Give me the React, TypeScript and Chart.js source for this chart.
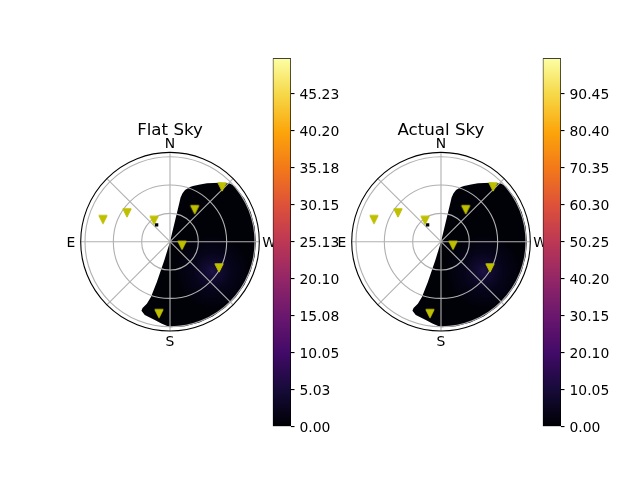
import React, { useEffect, useRef } from 'react';
import { Chart, registerables } from 'chart.js';

Chart.register(...registerables);

// ---------- data ----------
const DIRECTION_LABELS = ['N', 'E', 'S', 'W'];
const DIRECTION_AZ = [0, 90, 180, 270];
const SPOKE_AZ = [0, 45, 90, 135, 180, 225, 270, 315];
const RING_ZEN = [30, 60, 90];
const R_MAX = 94.55;
const LABEL_R = 105;

// satellites (azimuth deg, zenith deg)
const SAT_AZ = [316.4, 322.3, 36.9, 56.3, 71.8, 252.9, 241.8, 171.3];
const SAT_ZEN = [80.0, 42.8, 28.2, 54.8, 74.7, 13.3, 58.9, 77.1];

// small isolated heat cell
const PATCH_AZ = [38.5];
const PATCH_ZEN = [22.8];

// outline of the heat-map region
const REGION_AZ = [0, 346.5, 346.5, 345.5, 343.8, 339.9, 337.6, 332.3, 327.6, 319.7, 314.1, 310.5,
  300, 290, 280, 270, 260, 250, 240, 230, 220, 210, 200, 190,
  180, 174, 169, 161, 157.5, 157.5, 159.5, 161, 162, 163];
const REGION_ZEN = [0, 42, 48, 53, 57, 61.7, 63.8, 68.4, 73.2, 81.9, 88.5, 90.5,
  91, 91, 91, 91, 91, 91, 91, 91, 91, 91, 91, 91,
  90.5, 87, 84.5, 82, 79, 76, 70, 62, 45, 20];

// faint maximum of the heat map
const GLOW_AZ = 235;
const GLOW_ZEN = 55;
const GLOW_R = 40;

const FLAT_MAX = 50;
const FLAT_TICKS = [0, 5.025, 10.05, 15.075, 20.1, 25.125, 30.15, 35.175, 40.2, 45.225];
const FLAT_TICK_LABELS = ['0.00', '5.03', '10.05', '15.08', '20.10', '25.13', '30.15', '35.18', '40.20', '45.23'];

const ACTUAL_MAX = 100;
const ACTUAL_TICKS = [0, 10.05, 20.1, 30.15, 40.2, 50.25, 60.3, 70.35, 80.4, 90.45];
const ACTUAL_TICK_LABELS = ['0.00', '10.05', '20.10', '30.15', '40.20', '50.25', '60.30', '70.35', '80.40', '90.45'];

const INFERNO = ['#000004', '#160b39', '#420a68', '#6a176e', '#932667', '#bc3754',
  '#dd513a', '#f37819', '#fca50a', '#f6d746', '#fcffa4'];

const FONT = 'DejaVu Sans';

// ---------- helpers ----------
const rad = (d: number) => (d * Math.PI) / 180;
const toXY = (az: number, zen: number) => ({ x: -zen * Math.sin(rad(az)), y: zen * Math.cos(rad(az)) });
const toPoints = (az: number[], zen: number[]) => az.map((a, i) => toXY(a, zen[i]));

function makeTriangle() {
  const c = document.createElement('canvas');
  c.width = 12;
  c.height = 12;
  const g = c.getContext('2d')!;
  g.beginPath();
  g.moveTo(1.83, 1.83);
  g.lineTo(10.17, 1.83);
  g.lineTo(6, 10.17);
  g.closePath();
  g.fillStyle = '#bfbf00';
  g.fill();
  g.lineWidth = 1;
  g.strokeStyle = '#bfbf00';
  g.stroke();
  return c;
}

const polarPlugin = {
  id: 'polarDecor',
  afterDatasetDraw(chart: any, args: any) {
    if (args.index !== 2) return;
    const ctx = chart.ctx;
    const xs = chart.scales.x;
    const ys = chart.scales.y;
    const cx = xs.getPixelForValue(0);
    const cy = ys.getPixelForValue(0);
    ctx.save();
    ctx.strokeStyle = '#b0b0b0';
    ctx.lineWidth = 1.1;
    RING_ZEN.forEach((z) => {
      const r = xs.getPixelForValue(z) - cx;
      ctx.beginPath();
      ctx.arc(cx, cy, r, 0, Math.PI * 2);
      ctx.stroke();
    });
    SPOKE_AZ.forEach((a) => {
      const p = toXY(a, R_MAX);
      ctx.beginPath();
      ctx.moveTo(cx, cy);
      ctx.lineTo(xs.getPixelForValue(p.x), ys.getPixelForValue(p.y));
      ctx.stroke();
    });
    ctx.restore();
  },
  afterDatasetsDraw(chart: any) {
    const ctx = chart.ctx;
    const xs = chart.scales.x;
    const ys = chart.scales.y;
    const cx = xs.getPixelForValue(0);
    const cy = ys.getPixelForValue(0);
    ctx.save();
    ctx.strokeStyle = '#000';
    ctx.lineWidth = 1.1;
    ctx.beginPath();
    ctx.arc(cx, cy, xs.getPixelForValue(R_MAX) - cx, 0, Math.PI * 2);
    ctx.stroke();
    ctx.fillStyle = '#000';
    ctx.font = `13.9px "${FONT}"`;
    ctx.textAlign = 'center';
    ctx.textBaseline = 'middle';
    DIRECTION_LABELS.forEach((lab, i) => {
      const p = toXY(DIRECTION_AZ[i], LABEL_R);
      ctx.fillText(lab, xs.getPixelForValue(p.x), ys.getPixelForValue(p.y) + 1.5);
    });
    ctx.restore();
  },
};

function polarConfig(title: string, tri: HTMLCanvasElement): any {
  return {
    type: 'scatter',
    data: {
      datasets: [
        {
          type: 'scatter',
          data: toPoints(SAT_AZ, SAT_ZEN),
          pointStyle: tri,
          pointRadius: 5,
          order: 0,
        },
        {
          type: 'scatter',
          data: toPoints(PATCH_AZ, PATCH_ZEN),
          pointStyle: 'rect',
          pointRadius: 2.4,
          backgroundColor: '#000004',
          borderWidth: 0,
          order: 1,
        },
        {
          type: 'line',
          data: toPoints(REGION_AZ, REGION_ZEN),
          fill: 'shape',
          borderWidth: 0,
          borderColor: 'rgba(0,0,0,0)',
          pointRadius: 0,
          tension: 0,
          order: 2,
          backgroundColor: (c: any) => {
            const chart = c.chart;
            const xs = chart.scales && chart.scales.x;
            const ys = chart.scales && chart.scales.y;
            if (!chart.chartArea || !xs || !ys) return '#000004';
            const g = toXY(GLOW_AZ, GLOW_ZEN);
            const px = xs.getPixelForValue(g.x);
            const py = ys.getPixelForValue(g.y);
            const rr = Math.abs(xs.getPixelForValue(GLOW_R) - xs.getPixelForValue(0));
            const grad = chart.ctx.createRadialGradient(px, py, 0, px, py, rr);
            grad.addColorStop(0, '#1c1146');
            grad.addColorStop(0.2, '#110a30');
            grad.addColorStop(0.5, '#06041a');
            grad.addColorStop(1, '#010108');
            return grad;
          },
        },
      ],
    },
    options: {
      responsive: false,
      animation: false,
      events: [],
      layout: { padding: { left: 40.7, right: 40.7, top: 21, bottom: 29 } },
      plugins: {
        legend: { display: false },
        tooltip: { enabled: false },
        title: {
          display: true,
          text: title,
          color: '#000',
          font: { family: FONT, size: 16.67, weight: 'normal', lineHeight: 1.2 },
          padding: { top: 0, bottom: 11.4 },
        },
      },
      scales: {
        x: { type: 'linear', display: false, min: -R_MAX, max: R_MAX },
        y: { type: 'linear', display: false, min: -R_MAX, max: R_MAX },
      },
    },
    plugins: [polarPlugin],
  };
}

function colorbarConfig(max: number, ticks: number[], labels: string[]): any {
  return {
    type: 'bar',
    data: {
      labels: [''],
      datasets: [
        {
          data: [max],
          borderColor: '#000',
          borderWidth: 1,
          borderSkipped: false,
          barPercentage: 1,
          categoryPercentage: 1,
          backgroundColor: (c: any) => {
            const chart = c.chart;
            const a = chart.chartArea;
            if (!a) return '#000';
            const grad = chart.ctx.createLinearGradient(0, a.bottom, 0, a.top);
            INFERNO.forEach((col, i) => grad.addColorStop(i / (INFERNO.length - 1), col));
            return grad;
          },
        },
      ],
    },
    options: {
      responsive: false,
      animation: false,
      events: [],
      layout: { padding: { left: 10.7, right: 1, top: 18.3, bottom: 13.3 } },
      plugins: { legend: { display: false }, tooltip: { enabled: false } },
      scales: {
        x: { display: false },
        y: {
          position: 'right',
          min: 0,
          max,
          grid: { drawOnChartArea: false, drawTicks: true, tickLength: 3.5, color: '#000', lineWidth: 1.1 },
          border: { display: false },
          ticks: {
            autoSkip: false,
            padding: 5,
            labelOffset: 1.8,
            color: '#000',
            font: { family: FONT, size: 13.9 },
            callback: (_v: any, i: number) => labels[i],
          },
          afterBuildTicks: (s: any) => {
            s.ticks = ticks.map((v) => ({ value: v }));
          },
          afterFit: (s: any) => {
            s.width = 50;
          },
        },
      },
    },
  };
}

function ChartCanvas(props: { make: () => any; left: number; top: number; width: number; height: number }) {
  const ref = useRef<HTMLCanvasElement | null>(null);
  useEffect(() => {
    const chart = new Chart(ref.current as HTMLCanvasElement, props.make());
    return () => chart.destroy();
  }, []);
  return (
    <canvas
      ref={ref}
      width={props.width}
      height={props.height}
      style={{ position: 'absolute', left: props.left, top: props.top, width: props.width, height: props.height }}
    />
  );
}

export default function App() {
  return (
    <div style={{ position: 'fixed', left: 0, top: 0, width: 640, height: 480, background: '#fff', overflow: 'hidden' }}>
      <ChartCanvas make={() => polarConfig('Flat Sky', makeTriangle())} left={40} top={100} width={260} height={260} />
      <ChartCanvas make={() => colorbarConfig(FLAT_MAX, FLAT_TICKS, FLAT_TICK_LABELS)} left={262} top={40} width={80} height={400} />
      <ChartCanvas make={() => polarConfig('Actual Sky', makeTriangle())} left={310.5} top={100} width={260} height={260} />
      <ChartCanvas make={() => colorbarConfig(ACTUAL_MAX, ACTUAL_TICKS, ACTUAL_TICK_LABELS)} left={532} top={40} width={80} height={400} />
    </div>
  );
}
